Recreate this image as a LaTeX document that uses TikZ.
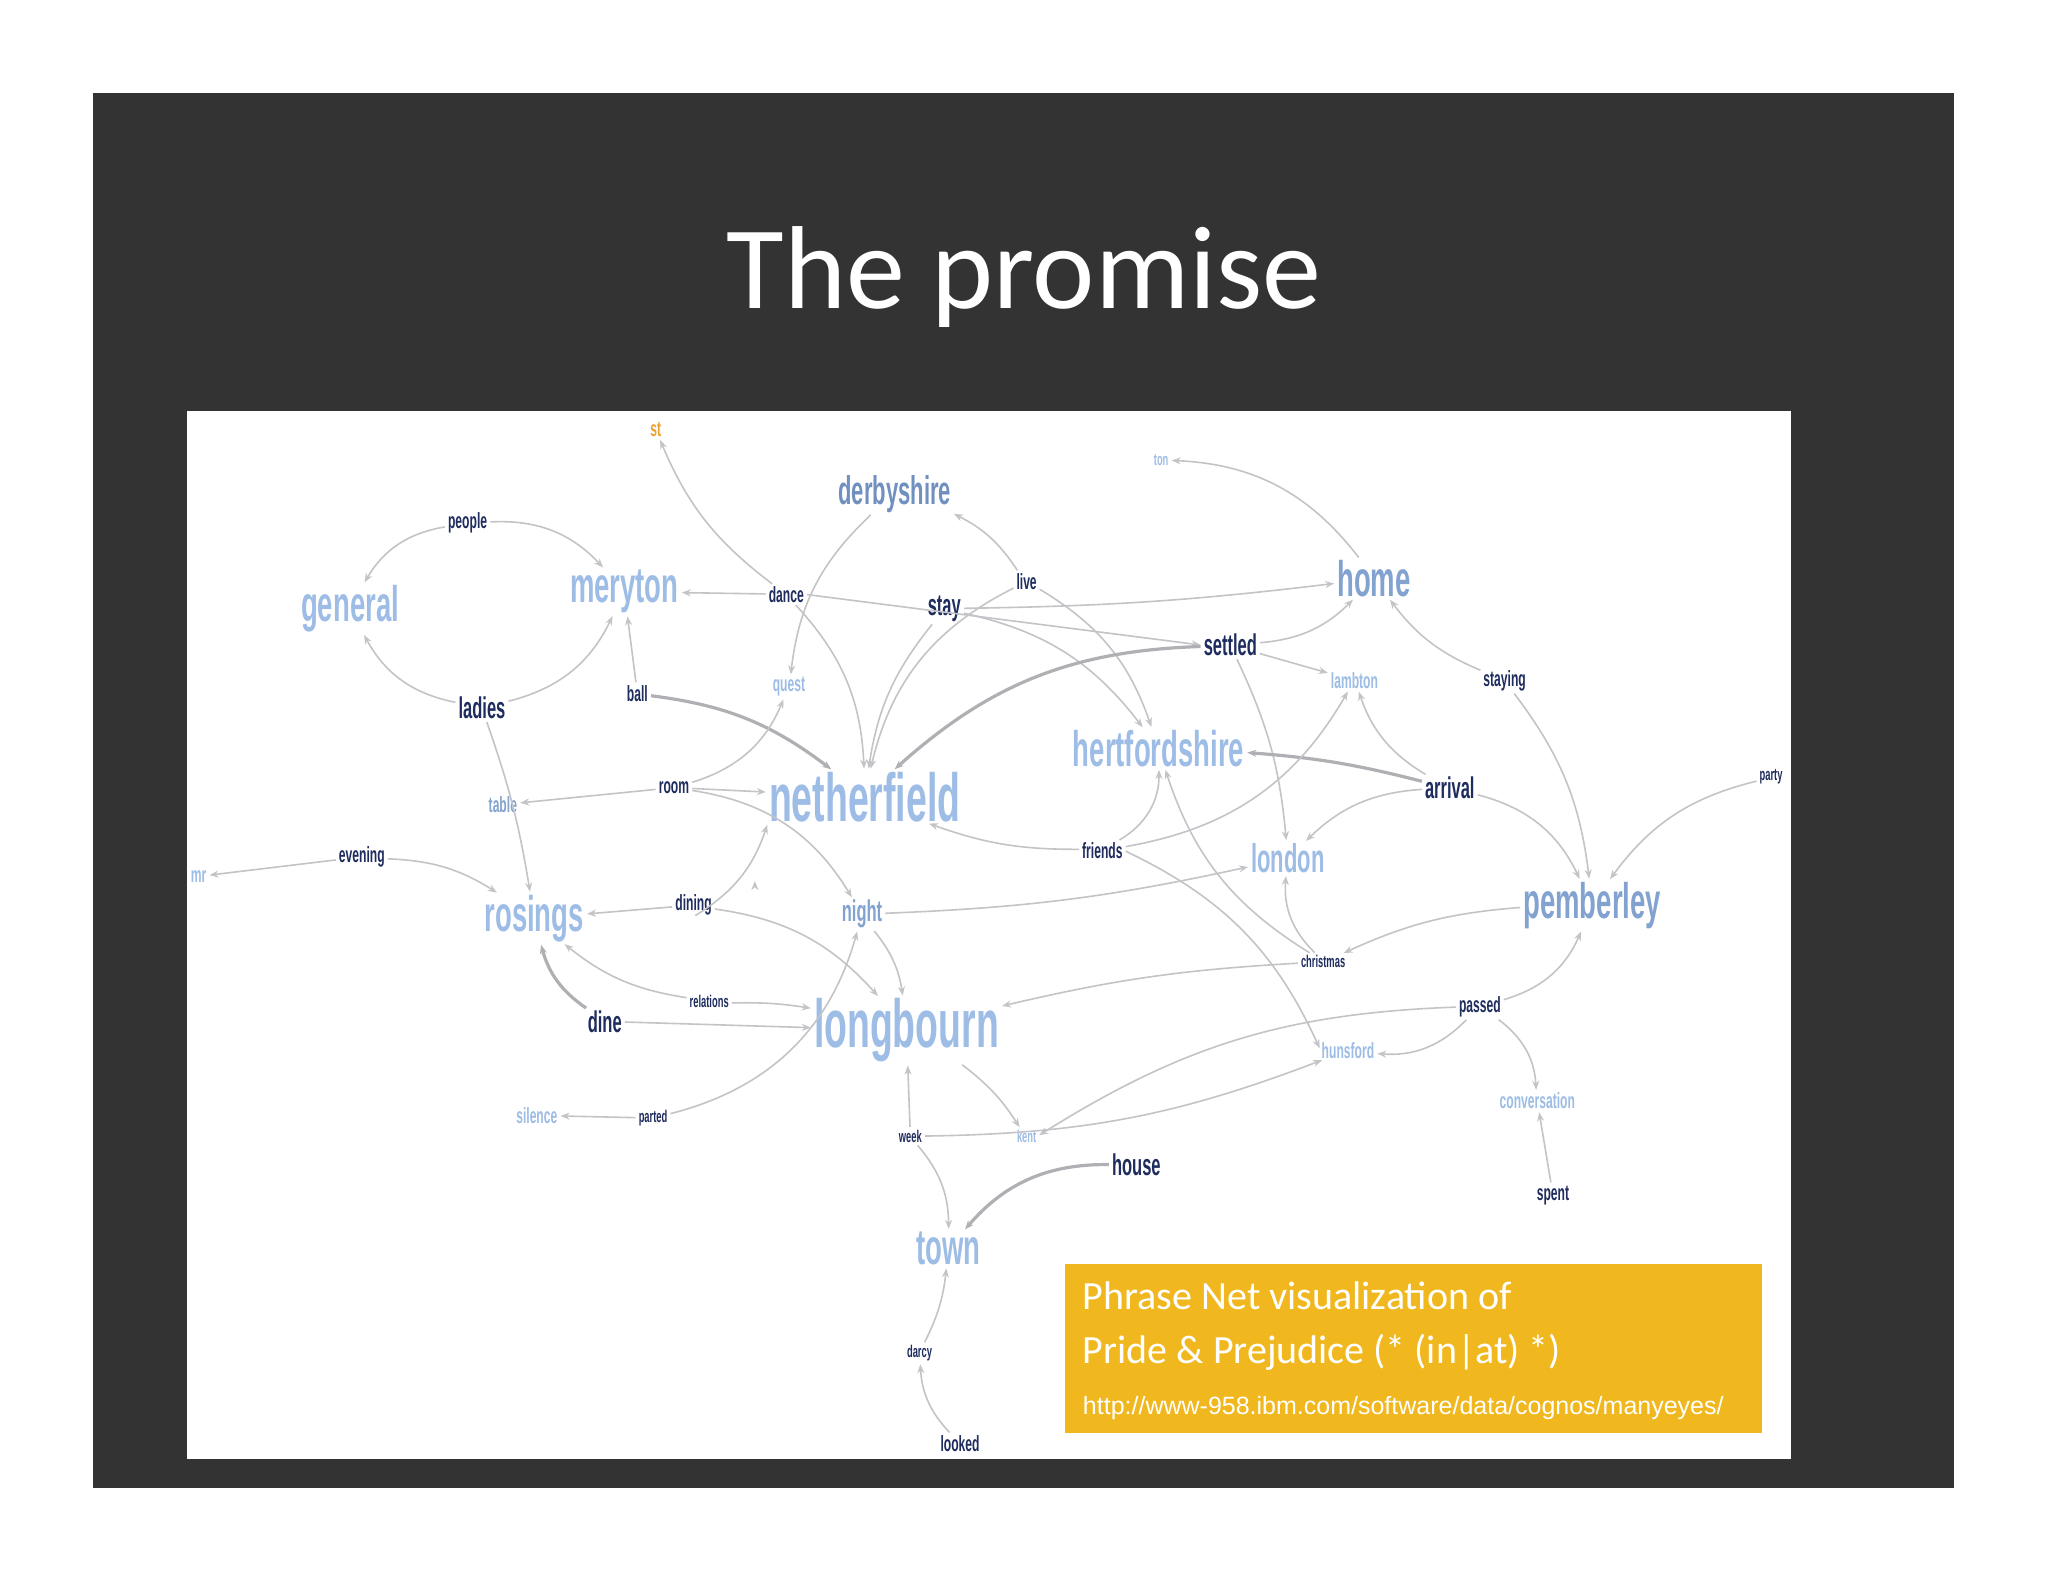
\documentclass[tikz,border=0pt]{standalone}
\usepackage{fontspec}
\setmainfont{Carlito}
\newfontfamily\cond[FakeStretch=0.55]{Liberation Sans}
\newfontfamily\urlf{Liberation Sans}
\usetikzlibrary{arrows.meta}
\definecolor{slide}{HTML}{333333}
\definecolor{lb}{HTML}{9DBDE6}
\definecolor{mb}{HTML}{7090C0}
\definecolor{db}{HTML}{1E2C5E}
\definecolor{og}{HTML}{F0A030}
\definecolor{yb}{HTML}{F0B81E}
\definecolor{eg}{HTML}{C4C4C8}
\tikzset{
 w/.style={inner sep=1pt},
 fhuge/.style={font=\cond\bfseries\fontsize{68}{68}\selectfont},
 fbig/.style={font=\cond\bfseries\fontsize{50}{50}\selectfont},
 fmed/.style={font=\cond\bfseries\fontsize{40}{40}\selectfont},
 fmid/.style={font=\cond\bfseries\fontsize{30}{30}\selectfont},
 fsm/.style={font=\cond\bfseries\fontsize{22}{22}\selectfont},
 ftiny/.style={font=\cond\bfseries\fontsize{17}{17}\selectfont},
 e/.style={draw=eg,line width=1.6pt,-{Stealth[length=9pt,width=7pt]},shorten >=2pt,shorten <=2pt},
 te/.style={e,line width=3.2pt,draw=eg!90!black}
}
\begin{document}
\begin{tikzpicture}[x=1.306pt,y=-1.306pt]
\useasboundingbox (0,0) rectangle (1568,1211.3);
\fill[white] (0,0) rectangle (1568,1211.3);
\fill[slide] (71,71) rectangle (1496,1139);
\fill[white] (143,315) rectangle (1371,1117);
\node[text=white,font=\fontsize{118}{118}\selectfont] (title) at (784,212) {The promise};
% nodes
\node[w,fsm,text=og] (st) at (502,329) {st};
\node[w,ftiny,text=lb] (ton) at (889,352) {ton};
\node[w,fmed,text=mb] (derbyshire) at (685,378) {derbyshire};
\node[w,fsm,text=db] (people) at (358,400) {people};
\node[w,fbig,text=lb] (general) at (268,466) {general};
\node[w,fbig,text=lb] (meryton) at (478,453) {meryton};
\node[w,fsm,text=db] (dance) at (602,455) {dance};
\node[w,fsm,text=db] (live) at (786,445) {live};
\node[w,fmid,text=db] (stay) at (723,466) {stay};
\node[w,fbig,text=mb!60!lb] (home) at (1052,443) {home};
\node[w,fmid,text=db] (settled) at (942,494) {settled};
\node[w,fsm,text=lb] (lambton) at (1037,521) {lambton};
\node[w,fsm,text=db] (staying) at (1152,521) {staying};
\node[w,fmid,text=db] (ladies) at (369,542) {ladies};
\node[w,fsm,text=db] (ball) at (488,531) {ball};
\node[w,fsm,text=lb] (quest) at (604,526) {quest};
\node[w,fbig,text=lb] (hertfordshire) at (887,573) {hertfordshire};
\node[w,fhuge,text=lb] (netherfield) at (662,610) {netherfield};
\node[w,fsm,text=db] (room) at (516,603) {room};
\node[w,fsm,text=mb!60!lb] (table) at (385,616) {table};
\node[w,fmid,text=db] (arrival) at (1110,603) {arrival};
\node[w,ftiny,text=db] (party) at (1356,595) {party};
\node[w,fsm,text=db] (evening) at (277,656) {evening};
\node[w,fsm,text=lb] (mr) at (152,671) {mr};
\node[w,fsm,text=db] (friends) at (844,651) {friends};
\node[w,fmed,text=lb] (london) at (986,657) {london};
\node[w,fbig,text=lb] (rosings) at (409,703) {rosings};
\node[w,fsm,text=db] (dining) at (531,693) {dining};
\node[w,fmid,text=mb!60!lb] (night) at (660,700) {night};
\node[w,fbig,text=mb!60!lb] (pemberley) at (1219,693) {pemberley};
\node[w,ftiny,text=db] (christmas) at (1013,736) {christmas};
\node[w,ftiny,text=db] (relations) at (543,767) {relations};
\node[w,fmid,text=db] (dine) at (463,782) {dine};
\node[w,fhuge,text=lb] (longbourn) at (694,789) {longbourn};
\node[w,fsm,text=db] (passed) at (1133,771) {passed};
\node[w,fsm,text=lb] (hunsford) at (1032,804) {hunsford};
\node[w,fsm,text=lb] (silence) at (411,854) {silence};
\node[w,ftiny,text=db] (parted) at (500,856) {parted};
\node[w,fsm,text=lb] (conversation) at (1177,843) {conversation};
\node[w,ftiny,text=db] (week) at (697,870) {week};
\node[w,ftiny,text=lb] (kent) at (786,870) {kent};
\node[w,fmid,text=db] (house) at (870,892) {house};
\node[w,fsm,text=db] (spent) at (1189,915) {spent};
\node[w,fbig,text=lb] (town) at (726,956) {town};
\node[w,ftiny,text=db] (darcy) at (704,1036) {darcy};
\node[w,fsm,text=db] (looked) at (735,1105) {looked};
% edges
\draw[e] (dance) to[bend left=15] (st);
\draw[e] (people) to[bend right=25] (general);
\draw[e] (people) to[bend left=25] (meryton);
\draw[e] (ladies) to[bend left=25] (general);
\draw[e] (ladies) to[bend right=25] (meryton);
\draw[e] (ladies) to[bend left=5] (rosings);
\draw[e] (ball) -- (meryton);
\draw[te] (ball) to[bend left=15] (netherfield);
\draw[e] (dance) -- (meryton);
\draw[e] (dance) to[bend left=20] (netherfield);
\draw[e] (dance.east) -- (settled.west);
\draw[e] (derbyshire) to[bend right=20] (quest);
\draw[e] (live) to[bend right=15] (derbyshire);
\draw[e] (live) to[bend right=25] (netherfield);
\draw[e] (live) to[bend left=20] (hertfordshire);
\draw[e] (stay) to[bend right=15] (netherfield);
\draw[e] (stay) to[bend left=20] (hertfordshire);
\draw[e] (stay) to[bend left=-3] (home);
\draw[e] (settled) to[bend right=20] (home);
\draw[te] (settled) to[bend right=20] (netherfield);
\draw[e] (settled) to[bend left=10] (london);
\draw[e] (settled) -- (lambton);
\draw[e] (home) to[bend right=25] (ton);
\draw[e] (staying) to[bend left=15] (home);
\draw[e] (staying) to[bend left=15] (pemberley);
\draw[e] (arrival) to[bend left=20] (lambton);
\draw[te] (arrival) to[bend right=5] (hertfordshire);
\draw[e] (arrival) to[bend right=20] (london);
\draw[e] (arrival) to[bend left=25] (pemberley);
\draw[e] (party) to[bend right=20] (pemberley);
\draw[e] (room) -- (table);
\draw[e] (room) -- (netherfield);
\draw[e] (room) to[bend right=25] (quest);
\draw[e] (room) to[bend left=25] (night);
\draw[e] (evening) -- (mr);
\draw[e] (evening) to[bend left=15] (rosings);
\draw[e] (friends) to[bend left=10] (netherfield);
\draw[e] (friends) to[bend right=30] (hertfordshire);
\draw[e] (friends) to[bend right=25] (lambton);
\draw[e] (friends.east) to[bend left=20] (hunsford.west);
\draw[e] (christmas) to[bend left=20] (hertfordshire);
\draw[e] (christmas) to[bend left=25] (london);
\draw[e] (pemberley) to[bend right=10] (christmas);
\draw[e] (christmas) to[bend right=5] (longbourn);
\draw[e] (night) to[bend right=5] (london);
\draw[e] (night) to[bend left=15] (longbourn);
\draw[e] (dining) -- (rosings);
\draw[e] (dining) to[bend left=20] (longbourn);
\draw[e] (rosings.east) ++(130,-30) coordinate (c1);
\draw[e] (dining.south) to[bend right=20] (netherfield.south west);
\draw[e] (relations) to[bend left=15] (rosings);
\draw[e] (relations) to[bend left=5] (longbourn);
\draw[te] (dine) to[bend left=20] (rosings);
\draw[e] (dine) -- (longbourn);
\draw[e] (parted) -- (silence);
\draw[e] (parted) to[bend right=30] (night);
\draw[e] (passed) to[bend right=25] (pemberley);
\draw[e] (passed) to[bend left=25] (conversation);
\draw[e] (passed) to[bend left=25] (hunsford);
\draw[e] (passed.west) to[bend right=15] (kent.east);
\draw[e] (longbourn) to[bend left=10] (kent);
\draw[e] (week) -- (longbourn);
\draw[e] (week) to[bend right=10] (hunsford);
\draw[e] (week) to[bend left=20] (town);
\draw[te] (house) to[bend right=25] (town);
\draw[e] (spent) -- (conversation);
\draw[e] (darcy) to[bend right=10] (town);
\draw[e] (looked) to[bend left=20] (darcy);
% caption box
\fill[yb] (815,968) rectangle (1349,1097);
\node[anchor=north west,text=white,inner sep=0pt,align=left,font=\fontsize{40}{54}\selectfont] (cap) at (829,981) {Phrase Net visualization of\\Pride \& Prejudice (* (in|at) *)};
\node[anchor=west,text=white,inner sep=0pt,font=\urlf\fontsize{25}{25}\selectfont] (url) at (829,1078) {http://www-958.ibm.com/software/data/cognos/manyeyes/};
\end{tikzpicture}
\end{document}
